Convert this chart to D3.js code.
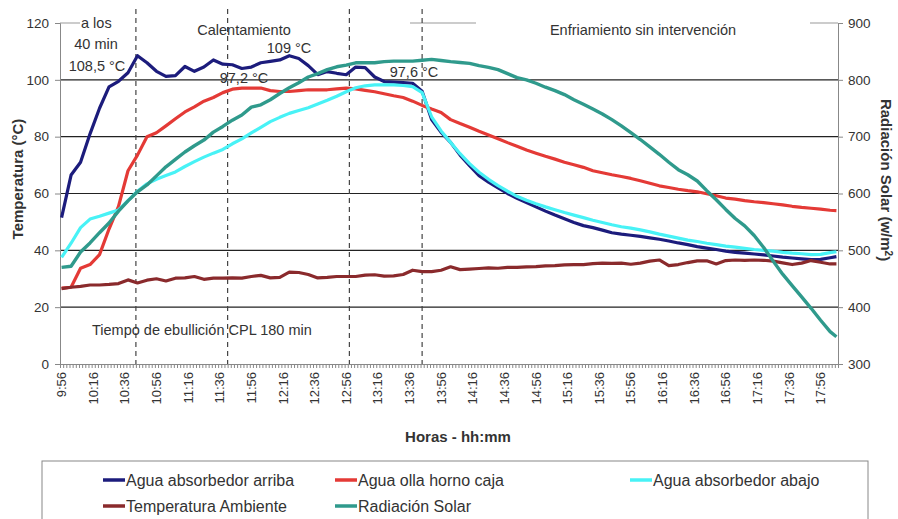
<!DOCTYPE html>
<html>
<head>
<meta charset="utf-8">
<script src="https://cdn.jsdelivr.net/npm/d3@7"></script>
<style>
  body { margin: 0; background: #fff; }
  text { font-family: "Liberation Sans", Arial, sans-serif; fill: #333; }
</style>
</head>
<body>
<div id="chart"></div>
<script>
// sample times (every 6 min)
const times = ["9:56","10:02","10:08","10:14","10:20","10:26","10:32","10:38","10:44","10:50",
  "10:56","11:02","11:08","11:14","11:20","11:26","11:32","11:38","11:44","11:50",
  "11:56","12:02","12:08","12:14","12:20","12:26","12:32","12:38","12:44","12:50",
  "12:56","13:02","13:08","13:14","13:20","13:26","13:32","13:38","13:44","13:50",
  "13:56","14:02","14:08","14:14","14:20","14:26","14:32","14:38","14:44","14:50",
  "14:56","15:02","15:08","15:14","15:20","15:26","15:32","15:38","15:44","15:50",
  "15:56","16:02","16:08","16:14","16:20","16:26","16:32","16:38","16:44","16:50",
  "16:56","17:02","17:08","17:14","17:20","17:26","17:32","17:38","17:44","17:50",
  "17:56","18:02","18:06"];

const aguaArriba = [51.5,66.5,71,81,90,97.5,99.5,102.5,108.5,106,
  103,101.2,101.5,104.7,103,104.5,107,105.5,105.3,104,
  104.5,106,106.5,107,108.5,107.5,105,101.8,102.9,102.3,
  101.8,104.5,104.3,101,99.4,99.2,99,98.8,96,86,
  81.5,78,73.5,69.8,66.3,64,62,60,58.3,56.8,
  55.3,53.8,52.4,51.1,49.8,48.7,48,47.1,46.2,45.7,
  45.3,44.9,44.4,43.9,43.3,42.6,42,41.3,40.8,40.3,
  39.7,39.3,39,38.7,38.4,38,37.6,37.3,37,36.7,
  36.8,37.4,37.8];

const aguaOlla = [26.7,27,33.7,35,38.5,47.5,55.5,68,73.5,80,
  81.4,83.8,86.3,88.7,90.5,92.5,93.8,95.5,96.7,97.1,
  97.1,97.1,96.2,95.9,95.9,96.2,96.5,96.5,96.5,96.8,
  97.1,96.8,96.3,95.8,95.1,94.4,93.8,92.5,91,89.7,
  88.5,86,84.6,83.3,81.9,80.6,79.3,77.9,76.6,75.3,
  74.2,73.1,72.1,71,70.1,69.2,68,67.3,66.6,66,
  65.3,64.5,63.6,62.7,62.1,61.5,61,60.6,59.9,59.2,
  58.4,58,57.5,57.1,56.8,56.4,56,55.5,55.1,54.8,
  54.5,54.1,54];

const aguaAbajo = [37.5,42.5,48,51,52,53.1,54.2,57.5,60.8,63.4,
  65,66.3,67.6,69.5,71.2,72.8,74.2,75.5,77.5,79.2,
  81.3,83.3,85.3,86.8,88.2,89.2,90.2,91.5,92.8,94.2,
  95.8,97.2,97.9,98.2,98.2,98.2,98,97.6,95.5,87,
  82,78,74,70.5,67.5,65,62.8,60.8,59,57.6,
  56.4,55.3,54.3,53.3,52.4,51.5,50.6,49.8,49,48.3,
  47.8,47.2,46.5,45.7,45,44.3,43.6,43.1,42.5,42,
  41.5,41.1,40.7,40.3,40,39.7,39.3,39,38.8,38.5,
  38.6,39.2,39.5];

const tempAmbiente = [26.5,27,27.3,27.8,27.8,28,28.3,29.6,28.5,29.5,
  30,29.2,30.2,30.3,30.8,29.8,30.2,30.2,30.3,30.2,
  30.8,31.2,30.3,30.5,32.3,32.2,31.5,30.3,30.5,30.8,
  30.8,30.8,31.3,31.4,30.9,31,31.5,33,32.5,32.5,
  33,34.2,33.2,33.4,33.6,33.8,33.7,34,34,34.2,
  34.3,34.5,34.6,34.9,35,35,35.3,35.5,35.4,35.5,
  35.1,35.5,36.2,36.6,34.6,35,35.7,36.3,36.3,35.2,
  36.4,36.6,36.5,36.6,36.5,36.2,35.6,35,35.5,36.4,
  35.8,35.2,35.2];

const radiacion = [470,472,497,513,531,548,569,587,603,615,
  631,647,660,673,684,694,708,718,729,738,
  752,756,765,776,786,795,805,811,818,823,
  826,830,830,830,832,833,833,833,834.5,836,
  834,832,830.5,829,825,822,818,811,804,800,
  794,787,781,774,765,757,748.5,740,730,719,
  707,695,682,669,655,642,633,622,605,589,
  572,556,543,526,505,481,458,438,418,398,
  377,357,348];

const tickLabels = ["9:56","10:16","10:36","10:56","11:16","11:36","11:56","12:16","12:36","12:56",
  "13:16","13:36","13:56","14:16","14:36","14:56","15:16","15:36","15:56","16:16",
  "16:36","16:56","17:16","17:36","17:56"];

const markerTimes = ["10:43","11:41","12:58","13:44"];

const seriesNames = ["Agua absorbedor arriba","Agua olla horno caja","Agua absorbedor abajo","Temperatura Ambiente","Radiación Solar"];
const seriesColors = ["#1c1c7c","#e43a36","#48f2f6","#8a2a2c","#2f9a8c"];

const width = 898, height = 519;
const plot = {left: 60, right: 838, top: 23, bottom: 364};

function toMin(s) {
    const p = s.split(":").map(Number);
    return p[0] * 60 + p[1] - (9 * 60 + 56);
}

const svg = d3.select("#chart").append("svg")
    .attr("width", width)
    .attr("height", height);

const x = d3.scaleLinear().domain([-1, 491]).range([plot.left, plot.right]);
const y = d3.scaleLinear().domain([0, 120]).range([plot.bottom, plot.top]);
const y2 = d3.scaleLinear().domain([300, 900]).range([plot.bottom, plot.top]);

// gridlines
svg.append("g")
    .selectAll("line")
    .data([20, 40, 60, 80, 100])
    .enter()
    .append("line")
    .attr("x1", plot.left).attr("x2", plot.right)
    .attr("y1", d => y(d)).attr("y2", d => y(d))
    .attr("stroke", "#222").attr("stroke-width", 1.2);

svg.append("line")
    .attr("x1", plot.left).attr("x2", plot.right)
    .attr("y1", y(120)).attr("y2", y(120))
    .attr("stroke", "#999");

// white boxes behind the top annotations
svg.append("rect").attr("x", 80).attr("y", 14).attr("width", 330).attr("height", 18).attr("fill", "#fff");
svg.append("rect").attr("x", 476).attr("y", 14).attr("width", 334).attr("height", 18).attr("fill", "#fff");

// left axis
const yAxis = svg.append("g")
    .attr("transform", `translate(${plot.left},0)`)
    .call(d3.axisLeft(y).tickValues([0, 20, 40, 60, 80, 100, 120]).tickSize(5).tickPadding(6));
yAxis.select(".domain").attr("stroke", "#888");
yAxis.selectAll(".tick line").attr("stroke", "#888");
yAxis.selectAll("text").style("font-size", "13.5px").attr("fill", "#333");

// right axis
const y2Axis = svg.append("g")
    .attr("transform", `translate(${plot.right},0)`)
    .call(d3.axisRight(y2).tickValues([300, 400, 500, 600, 700, 800, 900]).tickSize(5).tickPadding(5));
y2Axis.select(".domain").attr("stroke", "#888");
y2Axis.selectAll(".tick line").attr("stroke", "#888");
y2Axis.selectAll("text").style("font-size", "13.5px").attr("fill", "#333");

// bottom axis: minor ticks every 2 min, labels every 20 min
const xAxis = svg.append("g")
    .attr("transform", `translate(0,${plot.bottom})`)
    .call(d3.axisBottom(x).tickValues(d3.range(-1, 492, 2)).tickSize(4).tickFormat(""));
xAxis.select(".domain").attr("stroke", "#888");
xAxis.selectAll(".tick line").attr("stroke", "#888");

svg.append("g")
    .selectAll("text")
    .data(tickLabels)
    .enter()
    .append("text")
    .attr("transform", d => `translate(${x(toMin(d))},372) rotate(-90)`)
    .attr("dy", "0.35em")
    .attr("text-anchor", "end")
    .style("font-size", "13px")
    .text(d => d);

// vertical dashed markers
svg.append("g")
    .selectAll("line")
    .data(markerTimes)
    .enter()
    .append("line")
    .attr("x1", d => x(toMin(d))).attr("x2", d => x(toMin(d)))
    .attr("y1", 9).attr("y2", plot.bottom)
    .attr("stroke", "#444").attr("stroke-width", 1.2)
    .attr("stroke-dasharray", "5,4");

// series
const tempSeries = [aguaArriba, aguaOlla, aguaAbajo, tempAmbiente];
const tempLine = d3.line().x((d, i) => x(toMin(times[i]))).y(d => y(d));
const radLine = d3.line().x((d, i) => x(toMin(times[i]))).y(d => y2(d));

tempSeries.forEach(function(s, k) {
    svg.append("path")
        .datum(s)
        .attr("d", tempLine)
        .attr("fill", "none")
        .attr("stroke", seriesColors[k])
        .attr("stroke-width", 3.2)
        .attr("stroke-linejoin", "round");
});
svg.append("path")
    .datum(radiacion)
    .attr("d", radLine)
    .attr("fill", "none")
    .attr("stroke", seriesColors[4])
    .attr("stroke-width", 3.4)
    .attr("stroke-linejoin", "round");

// annotations
const notes = [
    {t: "a los", x: 81, y: 23, a: "start"},
    {t: "40 min", x: 96, y: 44, a: "middle"},
    {t: "108,5 °C", x: 97, y: 66, a: "middle"},
    {t: "Calentamiento", x: 244, y: 30, a: "middle"},
    {t: "109 °C", x: 289, y: 48, a: "middle"},
    {t: "97,2 °C", x: 244, y: 78, a: "middle"},
    {t: "97,6 °C", x: 414, y: 72, a: "middle"},
    {t: "Enfriamiento sin intervención", x: 643, y: 30, a: "middle"},
    {t: "Tiempo de ebullición CPL 180 min", x: 92, y: 330, a: "start"}
];
svg.append("g")
    .selectAll("text")
    .data(notes)
    .enter()
    .append("text")
    .attr("x", d => d.x).attr("y", d => d.y)
    .attr("dy", "0.35em")
    .attr("text-anchor", d => d.a)
    .style("font-size", "14.5px")
    .text(d => d.t);

// axis titles
svg.append("text")
    .attr("transform", "translate(18,179) rotate(-90)")
    .attr("text-anchor", "middle").attr("dy", "0.35em")
    .style("font-size", "15px").style("font-weight", "bold").attr("fill", "#222")
    .text("Temperatura (°C)");

const rt = svg.append("text")
    .attr("transform", "translate(886,180) rotate(90)")
    .attr("text-anchor", "middle").attr("dy", "0.35em")
    .style("font-size", "15px").style("font-weight", "bold").attr("fill", "#222");
rt.append("tspan").text("Radiación Solar (w/m");
rt.append("tspan").attr("dy", "-0.4em").style("font-size", "10px").text("2");
rt.append("tspan").attr("dy", "0.4em").text(")");

svg.append("text")
    .attr("x", 458).attr("y", 437)
    .attr("text-anchor", "middle").attr("dy", "0.35em")
    .style("font-size", "15px").style("font-weight", "bold").attr("fill", "#222")
    .text("Horas - hh:mm");

// legend
svg.append("rect")
    .attr("x", 42).attr("y", 461).attr("width", 826).attr("height", 70)
    .attr("fill", "#fff").attr("stroke", "#888");

const legendPos = [[103, 480], [335, 480], [630, 480], [103, 506], [335, 506]];
const legend = svg.append("g")
    .selectAll("g")
    .data(seriesNames)
    .enter()
    .append("g")
    .attr("transform", (d, i) => `translate(${legendPos[i][0]},${legendPos[i][1]})`);
legend.append("line")
    .attr("x1", 0).attr("x2", 22)
    .attr("stroke", (d, i) => seriesColors[i])
    .attr("stroke-width", 3.5);
legend.append("text")
    .attr("x", 23).attr("dy", "0.35em")
    .style("font-size", "16px")
    .text(d => d);
</script>
</body>
</html>
